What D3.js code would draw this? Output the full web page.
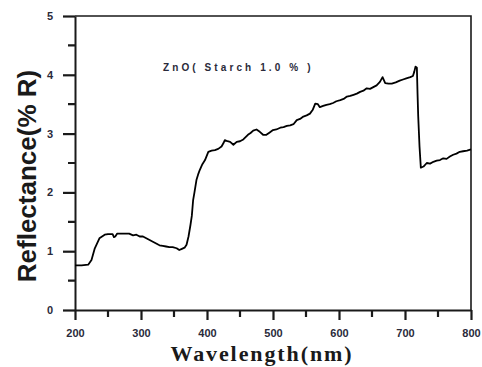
<!DOCTYPE html>
<html>
<head>
<meta charset="utf-8">
<script src="https://cdn.jsdelivr.net/npm/d3@7"></script>
<style>
  body { margin: 0; background: #fff; }
  svg { display: block; }
</style>
</head>
<body>
<div id="chart"></div>
<script>
const wavelength = [200, 210, 220, 225, 230, 237, 245, 250, 257, 259, 261, 264, 270, 282, 288, 293, 298, 303, 308, 313, 318, 323, 328, 333, 338, 343, 348, 354, 358, 362, 366, 369, 372, 375, 377, 379, 381, 384, 387, 389, 393, 397, 402, 407, 412, 417, 422, 425, 427, 431, 435, 440, 445, 450, 455, 462, 466, 470, 475, 480, 485, 490, 495, 500, 505, 511, 516, 521, 526, 531, 536, 541, 546, 551, 556, 560, 564, 568, 571, 576, 581, 586, 591, 596, 602, 607, 612, 617, 622, 627, 632, 637, 642, 647, 652, 657, 662, 666, 670, 675, 680, 686, 692, 697, 702, 708, 712, 714, 716, 718, 719, 720, 722, 724, 728, 733, 738, 743, 748, 753, 758, 763, 768, 773, 778, 783, 788, 794, 800];
const reflectance = [0.76, 0.76, 0.77, 0.85, 1.05, 1.22, 1.28, 1.29, 1.29, 1.24, 1.25, 1.30, 1.30, 1.30, 1.27, 1.28, 1.25, 1.25, 1.22, 1.19, 1.16, 1.13, 1.10, 1.09, 1.08, 1.07, 1.07, 1.05, 1.02, 1.04, 1.06, 1.11, 1.25, 1.45, 1.60, 1.87, 2.00, 2.21, 2.32, 2.38, 2.48, 2.55, 2.69, 2.71, 2.72, 2.74, 2.78, 2.84, 2.89, 2.87, 2.86, 2.81, 2.86, 2.87, 2.90, 2.98, 3.01, 3.05, 3.07, 3.03, 2.98, 2.98, 3.02, 3.06, 3.07, 3.10, 3.11, 3.13, 3.14, 3.16, 3.23, 3.25, 3.29, 3.31, 3.34, 3.40, 3.51, 3.50, 3.45, 3.47, 3.49, 3.50, 3.52, 3.55, 3.57, 3.59, 3.63, 3.64, 3.66, 3.68, 3.71, 3.73, 3.77, 3.76, 3.79, 3.82, 3.88, 3.96, 3.86, 3.85, 3.85, 3.87, 3.90, 3.92, 3.94, 3.96, 3.98, 4.05, 4.14, 4.12, 3.68, 3.30, 2.78, 2.42, 2.44, 2.50, 2.49, 2.52, 2.54, 2.55, 2.58, 2.57, 2.61, 2.64, 2.66, 2.69, 2.70, 2.71, 2.73];
const xTicks = [200, 300, 400, 500, 600, 700, 800];
const xMinor = [250, 350, 450, 550, 650, 750];
const yTicks = [0, 1, 2, 3, 4, 5];
const yMinor = [0.5, 1.5, 2.5, 3.5, 4.5];

const W = 482, H = 367;
const margin = { top: 16, right: 11, bottom: 57, left: 75 };

const svg = d3.select("#chart").append("svg")
    .attr("width", W)
    .attr("height", H);

const x = d3.scaleLinear().domain([200, 800]).range([margin.left, W - margin.right]);
const y = d3.scaleLinear().domain([0, 5]).range([H - margin.bottom, margin.top]);

const ink = "#1a1a1a";
const labelInk = "#2a2a3a";

// frame (top and right)
svg.append("path")
    .attr("d", `M${x(200)},${y(5)}H${x(800)}V${y(0)}`)
    .attr("fill", "none")
    .attr("stroke", ink)
    .attr("stroke-width", 1.6);

const xAxis = svg.append("g")
    .attr("transform", `translate(0,${y(0)})`)
    .call(d3.axisBottom(x).tickValues(xTicks).tickFormat(d3.format("d"))
        .tickSize(10).tickSizeOuter(0).tickPadding(9));
const yAxis = svg.append("g")
    .attr("transform", `translate(${x(200)},0)`)
    .call(d3.axisLeft(y).tickValues(yTicks).tickFormat(d3.format("d"))
        .tickSize(12).tickSizeOuter(0).tickPadding(10));

[xAxis, yAxis].forEach(g => {
    g.select(".domain").attr("stroke", ink).attr("stroke-width", 2);
    g.selectAll(".tick line").attr("stroke", ink).attr("stroke-width", 2.2);
    g.selectAll(".tick text")
        .attr("fill", labelInk)
        .style("font-family", "'Liberation Sans', Arial, sans-serif")
        .style("font-weight", "bold")
        .style("font-size", "11px");
});

// minor tick marks (drawn after the axes so they sit on top)
const minorPath = [
    ...xMinor.map(v => `M${x(v)},${y(0)}V${y(0) + 7}`),
    ...yMinor.map(v => `M${x(200)},${y(v)}H${x(200) - 7}`)
].join("");
svg.append("path")
    .attr("d", minorPath)
    .attr("fill", "none")
    .attr("stroke", ink)
    .attr("stroke-width", 2.2);

// curve
const line = d3.line()
    .x((d, i) => x(wavelength[i]))
    .y(d => y(d));

svg.append("path")
    .datum(reflectance)
    .attr("d", line)
    .attr("fill", "none")
    .attr("stroke", "#000")
    .attr("stroke-width", 1.8)
    .attr("stroke-linejoin", "round");

// annotation
svg.append("text")
    .attr("x", 163)
    .attr("y", 71)
    .text("ZnO( Starch 1.0 % )")
    .attr("fill", labelInk)
    .style("font-family", "'Liberation Sans', Arial, sans-serif")
    .style("font-weight", "bold")
    .style("font-size", "10px")
    .style("letter-spacing", "3.1px");

// axis titles
svg.append("text")
    .attr("transform", `translate(36,${(y(0) + y(5)) / 2 + 13}) rotate(-90)`)
    .attr("text-anchor", "middle")
    .text("Reflectance(% R)")
    .attr("fill", ink)
    .style("font-family", "'Liberation Sans', Arial, sans-serif")
    .style("font-weight", "bold")
    .style("font-size", "26px");

svg.append("text")
    .attr("x", 262)
    .attr("y", 361)
    .attr("text-anchor", "middle")
    .text("Wavelength(nm)")
    .attr("fill", ink)
    .style("font-family", "'Liberation Serif', 'Times New Roman', serif")
    .style("font-weight", "bold")
    .style("font-size", "22px")
    .style("letter-spacing", "1.9px");
</script>
</body>
</html>
